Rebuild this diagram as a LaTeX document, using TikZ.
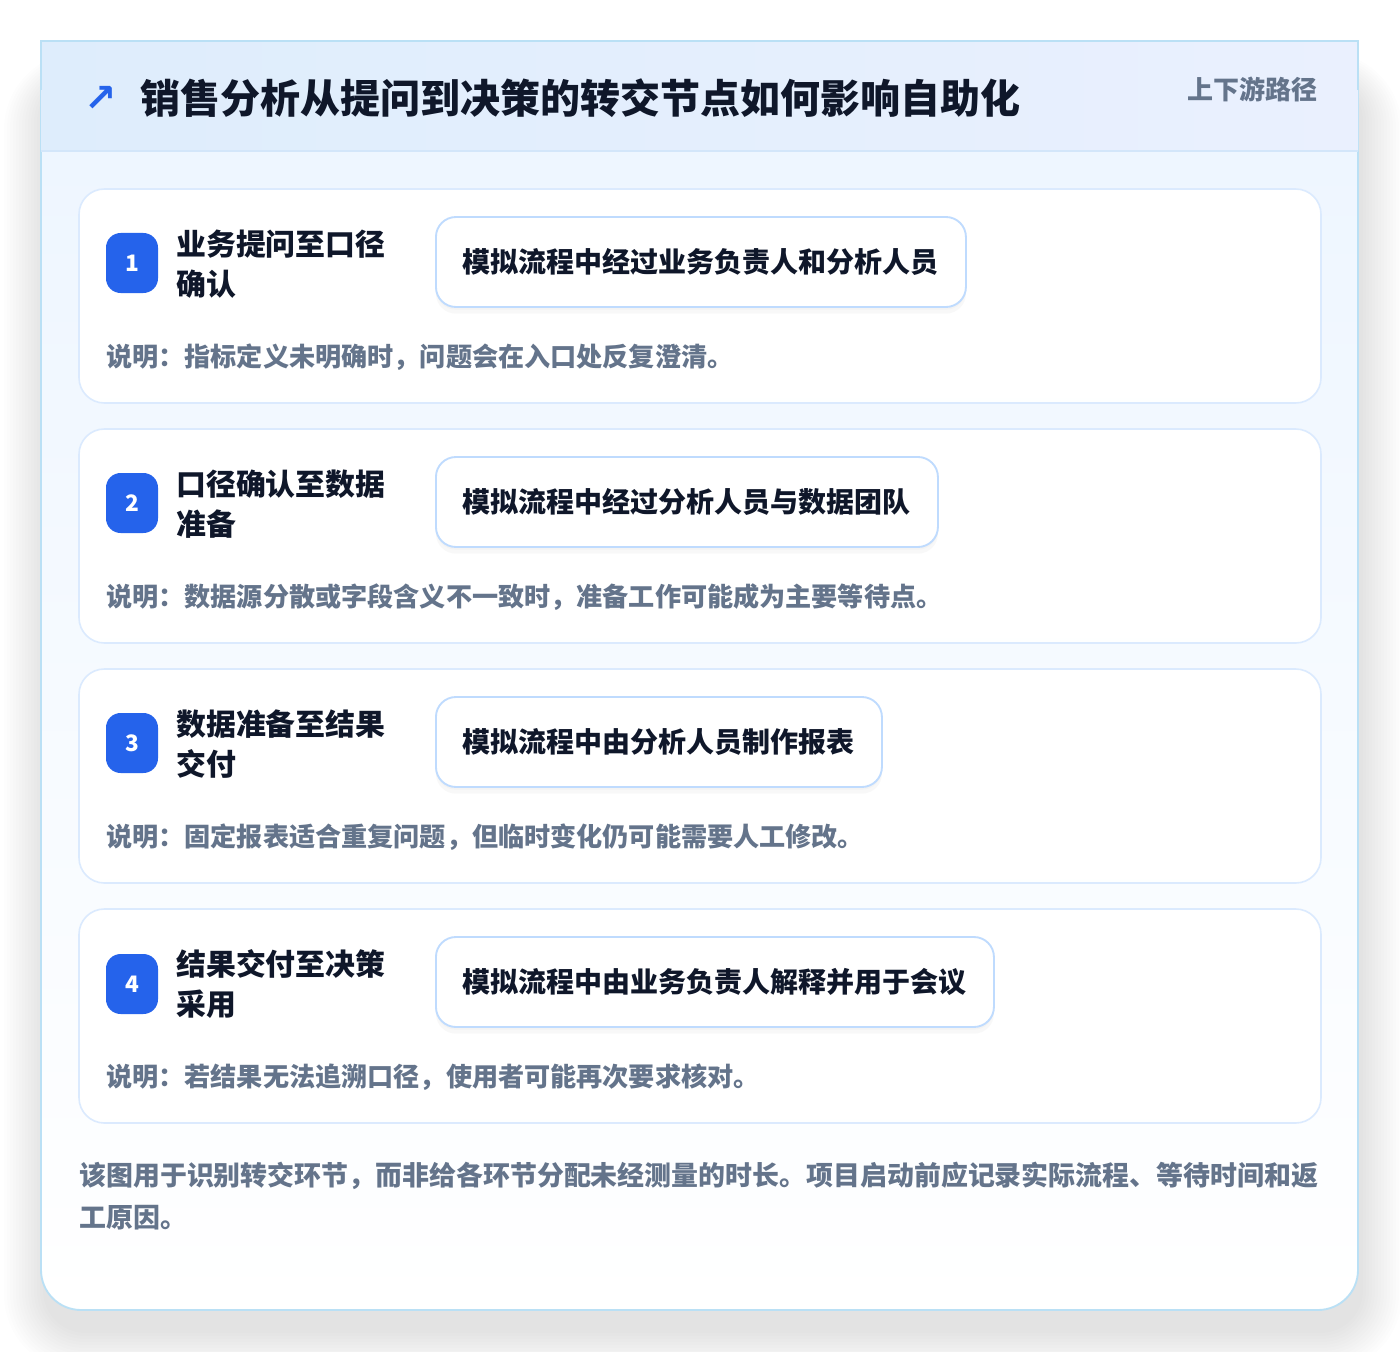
\documentclass[tikz,border=0pt]{standalone}
\usepackage{fontspec}
\setmainfont{Noto Sans CJK SC}
\newfontfamily\symfont{DejaVu Sans}
\usetikzlibrary{shadows}
\definecolor{cardborder}{HTML}{BAE0F5}
\definecolor{hdrL}{HTML}{DEEDFC}
\definecolor{hdrR}{HTML}{EAF0FE}
\definecolor{hdrline}{HTML}{D3E6FA}
\definecolor{bodyTop}{HTML}{EEF6FF}
\definecolor{stepborder}{HTML}{DBEAFE}
\definecolor{pillborder}{HTML}{BFDBFE}
\definecolor{ink}{HTML}{0F172A}
\definecolor{muted}{HTML}{64748B}
\definecolor{accent}{HTML}{2563EB}
\tikzset{
  stepcard/.style={draw=stepborder, line width=1.2pt, rounded corners=19pt,
    top color=white, bottom color=white!97!bodyTop,
    minimum width=931.5pt, minimum height=160.5pt, inner sep=0pt},
  badge/.style={fill=accent, rounded corners=11pt, minimum width=39pt,
    minimum height=45pt, inner sep=0pt, text=white,
    font=\bfseries\fontsize{17}{20}\selectfont},
  steptitle/.style={anchor=west, inner sep=0pt, align=left, text=ink,
    font=\bfseries\fontsize{22.4}{30}\selectfont},
  pill/.style={anchor=west, draw=pillborder, line width=1.4pt, fill=white,
    rounded corners=15pt, minimum height=67.5pt, inner xsep=20.25pt,
    inner ysep=0pt, text=ink, font=\bfseries\fontsize{21}{26}\selectfont,
    drop shadow={opacity=0.05, shadow xshift=0pt, shadow yshift=-5pt},
    drop shadow={opacity=0.04, shadow xshift=0pt, shadow yshift=-2pt}},
  desc/.style={anchor=west, inner sep=0pt, text=muted,
    font=\bfseries\fontsize{19.6}{24}\selectfont},
}
\begin{document}
\begin{tikzpicture}[x=0.75pt,y=-0.75pt]
\useasboundingbox (0,0) rectangle (1400,1352);
\fill[white] (0,0) rectangle (1400,1352);
% outer soft shadow
\foreach \i in {1,...,14}{
  \fill[black, opacity=0.006, rounded corners={30pt+2pt*\i}]
    ({46-3*\i},{80-2*\i}) rectangle ({1360+3*\i},{1330+3*\i});
}
% card body
\begin{scope}
  \clip[rounded corners=30pt] (41,41) rectangle (1358,1310);
  \shade[top color=bodyTop, bottom color=white] (41,151) rectangle (1358,1310);
\end{scope}
\node[draw=cardborder, line width=1.4pt, rounded corners=30pt,
  minimum width=987.75pt, minimum height=951.75pt, inner sep=0pt] (card) at (699.5,675.5) {};
% header band (square corners, as in the reference)
\shade[left color=hdrL, right color=hdrR] (41,41) rectangle (1358,151);
\draw[cardborder, line width=1.2pt] (41,90) -- (41,41) -- (1358,41) -- (1358,90);
\draw[hdrline, line width=1.2pt] (41,151) -- (1358,151);
% header texts
\node[text=accent, inner sep=0pt, font=\symfont\bfseries\fontsize{29}{32}\selectfont] (icon) at (101,99) {↗};
\node[anchor=west, inner sep=0pt, text=ink, font=\bfseries\fontsize{30}{36}\selectfont] (title) at (140,98)
  {销售分析从提问到决策的转交节点如何影响自助化};
\node[anchor=east, inner sep=0pt, text=muted, font=\bfseries\fontsize{19.5}{24}\selectfont] (tag) at (1318,89)
  {上下游路径};
% step 1
\node[stepcard] (s1) at (700,296) {};
\node[badge] (b1) at (132,263) {1};
\node[steptitle] (t1) at (176,264) {业务提问至口径\\确认};
\node[pill] (p1) at (435,262) {模拟流程中经过业务负责人和分析人员};
\node[desc] (d1) at (106,357) {说明：指标定义未明确时，问题会在入口处反复澄清。};
% step 2
\node[stepcard] (s2) at (700,536) {};
\node[badge] (b2) at (132,503) {2};
\node[steptitle] (t2) at (176,504) {口径确认至数据\\准备};
\node[pill] (p2) at (435,502) {模拟流程中经过分析人员与数据团队};
\node[desc] (d2) at (106,597) {说明：数据源分散或字段含义不一致时，准备工作可能成为主要等待点。};
% step 3
\node[stepcard] (s3) at (700,776) {};
\node[badge] (b3) at (132,743) {3};
\node[steptitle] (t3) at (176,744) {数据准备至结果\\交付};
\node[pill] (p3) at (435,742) {模拟流程中由分析人员制作报表};
\node[desc] (d3) at (106,837) {说明：固定报表适合重复问题，但临时变化仍可能需要人工修改。};
% step 4
\node[stepcard] (s4) at (700,1016) {};
\node[badge] (b4) at (132,984) {4};
\node[steptitle] (t4) at (176,984) {结果交付至决策\\采用};
\node[pill] (p4) at (435,982) {模拟流程中由业务负责人解释并用于会议};
\node[desc] (d4) at (106,1077) {说明：若结果无法追溯口径，使用者可能再次要求核对。};
% footer
\node[anchor=west, inner sep=0pt, align=left, text=muted,
  font=\bfseries\fontsize{20.2}{31.5}\selectfont] (foot) at (79,1196)
  {该图用于识别转交环节，而非给各环节分配未经测量的时长。项目启动前应记录实际流程、等待时间和返\\工原因。};
\end{tikzpicture}
\end{document}
